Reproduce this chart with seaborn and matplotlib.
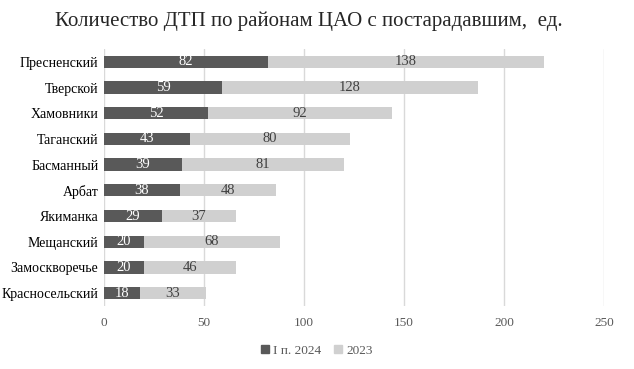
import matplotlib
matplotlib.use("Agg")
import matplotlib.pyplot as plt
from matplotlib.patches import Patch
import seaborn as sns
import pandas as pd

# данные с графика
rayony = ["Пресненский", "Тверской", "Хамовники", "Таганский", "Басманный",
          "Арбат", "Якиманка", "Мещанский", "Замоскворечье", "Красносельский"]
dtp_2024 = [82, 59, 52, 43, 39, 38, 29, 20, 20, 18]
dtp_2023 = [138, 128, 92, 80, 81, 48, 37, 68, 46, 33]

df = pd.DataFrame({"rayon": rayony, "y2024": dtp_2024, "y2023": dtp_2023})
df["total"] = df["y2024"] + df["y2023"]

sns.set_style("white")
plt.rcParams["font.family"] = ["Liberation Serif", "DejaVu Serif"]

temnyi = "#595959"
svetlyi = "#d0d0d0"

fig = plt.figure(figsize=(6.34, 3.69), dpi=100)
ax = fig.add_axes([0.164, 0.171, 0.789, 0.696])

# светлая часть (2023) рисуется как сумма, тёмная поверх
sns.barplot(data=df, y="rayon", x="total", color=svetlyi, width=0.48,
            saturation=1, linewidth=0, ax=ax, zorder=2)
sns.barplot(data=df, y="rayon", x="y2024", color=temnyi, width=0.48,
            saturation=1, linewidth=0, ax=ax, zorder=3)

for i, row in df.iterrows():
    ax.text(row["y2024"] / 2, i, str(row["y2024"]), ha="center", va="center",
            color="white", fontsize=10.5, zorder=4)
    ax.text(row["y2024"] + row["y2023"] / 2, i, str(row["y2023"]), ha="center",
            va="center", color="#404040", fontsize=10.5, zorder=4)

ax.set_xlim(0, 250)
ax.set_xticks(range(0, 251, 50))
ax.set_ylim(9.5, -0.5)
ax.grid(axis="x", color="#d9d9d9", linewidth=1, zorder=0)
ax.set_axisbelow(True)
for s in ax.spines.values():
    s.set_visible(False)
ax.set_xlabel("")
ax.set_ylabel("")
ax.tick_params(axis="x", labelsize=9.5, labelcolor="#595959", length=0, pad=8)
ax.tick_params(axis="y", labelsize=10, labelcolor="black", length=0, pad=4)

fig.suptitle("Количество ДТП по районам ЦАО с постарадавшим,  ед.",
             fontsize=15, x=0.487, y=0.968)

handles = [Patch(color=temnyi, label="I п. 2024"), Patch(color=svetlyi, label="2023")]
fig.legend(handles=handles, loc="center", bbox_to_anchor=(0.5, 0.05), ncol=2,
           frameon=False, fontsize=9.5, handlelength=0.6, handleheight=0.6,
           handletextpad=0.3, columnspacing=1.0, labelcolor="#595959")

fig.savefig("out.png", dpi=100)
plt.close(fig)
